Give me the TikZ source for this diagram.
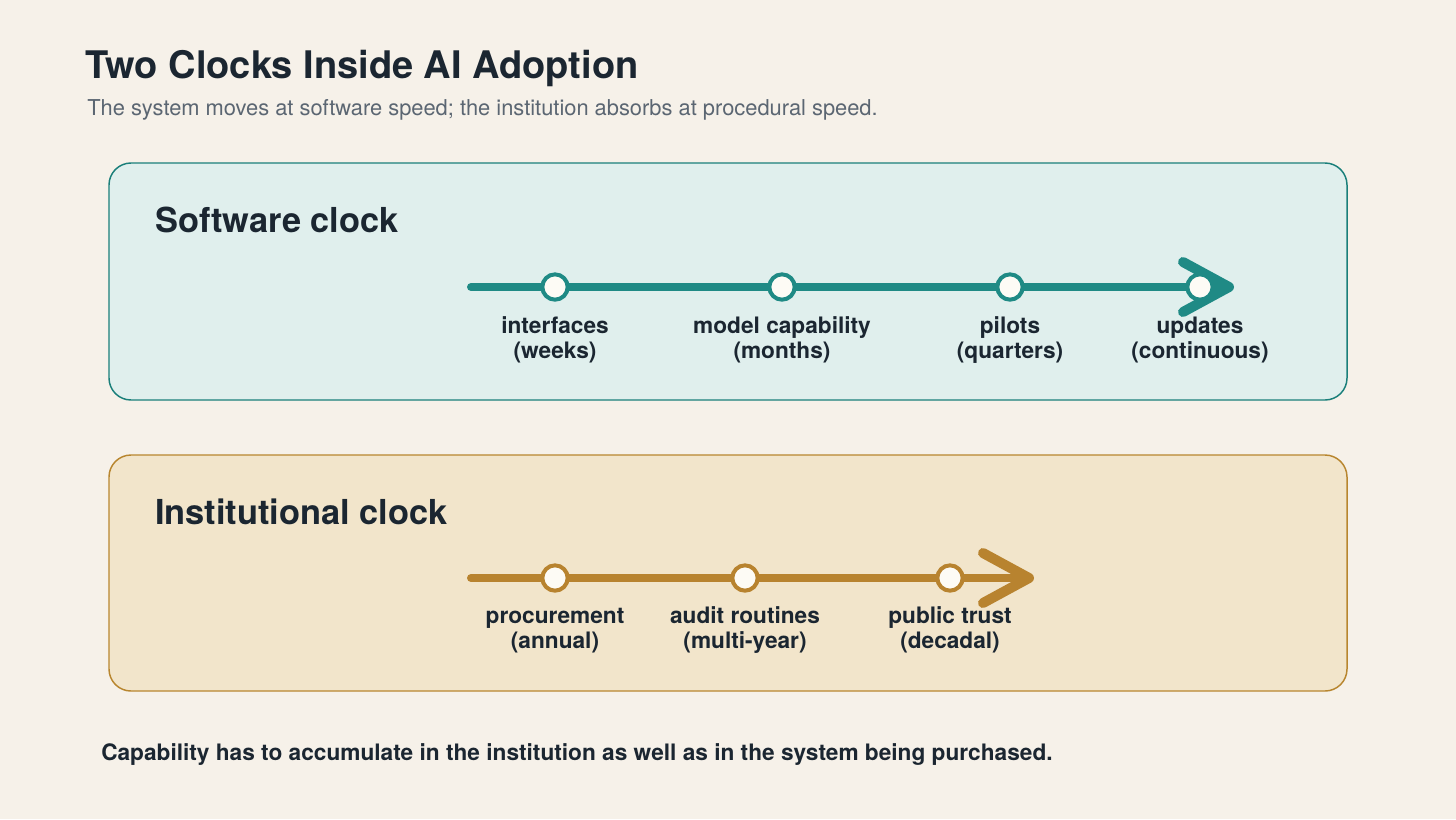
\documentclass[tikz,border=0pt]{standalone}
\usepackage{fontspec}
\setmainfont{TeX Gyre Heros}
\usetikzlibrary{calc}
\definecolor{bg}{HTML}{F6F1E9}
\definecolor{ink}{HTML}{1B2631}
\definecolor{subgray}{HTML}{5B6672}
\definecolor{teal}{HTML}{1F8A85}
\definecolor{tealbox}{HTML}{E0EFED}
\definecolor{tealedge}{HTML}{1A7F7A}
\definecolor{gold}{HTML}{B8832F}
\definecolor{goldbox}{HTML}{F2E5CB}
\definecolor{goldedge}{HTML}{B8862F}
\definecolor{dotfill}{HTML}{FDFBF5}
\tikzset{
  panel/.style={draw=#1, line width=1.1pt, rounded corners=16.5pt},
  heading/.style={anchor=base west, inner sep=0pt, text=ink, font=\fontsize{25.8}{30}\selectfont\bfseries},
  tline/.style={draw=#1, line width=6pt, line cap=round},
  chev/.style={draw=#1, line width=7.5pt, line cap=round, line join=round},
  dot/.style={circle, draw=#1, fill=dotfill, line width=3pt, minimum size=19pt, inner sep=0pt},
  tlabel/.style={anchor=base, inner sep=0pt, align=center, text=ink, font=\fontsize{17}{18.75}\selectfont\bfseries}
}
\begin{document}
\begin{tikzpicture}[x=0.75pt,y=-0.75pt]
\useasboundingbox[fill=bg] (0,0) rectangle (1456,819);
% title
\node[anchor=base west, inner sep=0pt, text=ink, font=\fontsize{28.5}{34}\selectfont\bfseries] (title) at (85,78) {Two Clocks Inside AI Adoption};
\node[anchor=base west, inner sep=0pt, text=subgray, font=\fontsize{16.4}{19}\selectfont] (subtitle) at (87,115) {The system moves at software speed; the institution absorbs at procedural speed.};
% panels
\path[panel=tealedge, fill=tealbox] (109,163) rectangle (1347,400);
\path[panel=goldedge, fill=goldbox] (109,455) rectangle (1347,691);
\node[heading] (h1) at (155,232) {Software clock};
\node[heading] (h2) at (155,524) {Institutional clock};
% software timeline
\coordinate (s1) at (471,287);
\coordinate (e1) at (1229,287);
\draw[tline=teal] (s1) -- (e1);
\draw[chev=teal] ($(e1)+(-46,-25)$) -- (e1) -- ($(e1)+(-46,25)$);
\node[dot=teal] (a1) at (555,287) {};
\node[dot=teal] (a2) at (782,287) {};
\node[dot=teal] (a3) at (1010,287) {};
\node[dot=teal] (a4) at (1200,287) {};
\node[tlabel] (l1) at (555,358) {interfaces\\(weeks)};
\node[tlabel] (l2) at (782,358) {model capability\\(months)};
\node[tlabel] (l3) at (1010,358) {pilots\\(quarters)};
\node[tlabel] (l4) at (1200,358) {updates\\(continuous)};
% institutional timeline
\coordinate (s2) at (471,578);
\coordinate (e2) at (1029,578);
\draw[tline=gold] (s2) -- (e2);
\draw[chev=gold] ($(e2)+(-46,-25)$) -- (e2) -- ($(e2)+(-46,25)$);
\node[dot=gold] (b1) at (555,578) {};
\node[dot=gold] (b2) at (745,578) {};
\node[dot=gold] (b3) at (950,578) {};
\node[tlabel] (m1) at (555,648) {procurement\\(annual)};
\node[tlabel] (m2) at (745,648) {audit routines\\(multi-year)};
\node[tlabel] (m3) at (950,648) {public trust\\(decadal)};
% footer
\node[anchor=base west, inner sep=0pt, text=ink, font=\fontsize{17}{20}\selectfont\bfseries] (foot) at (101,760) {Capability has to accumulate in the institution as well as in the system being purchased.};
\end{tikzpicture}
\end{document}
